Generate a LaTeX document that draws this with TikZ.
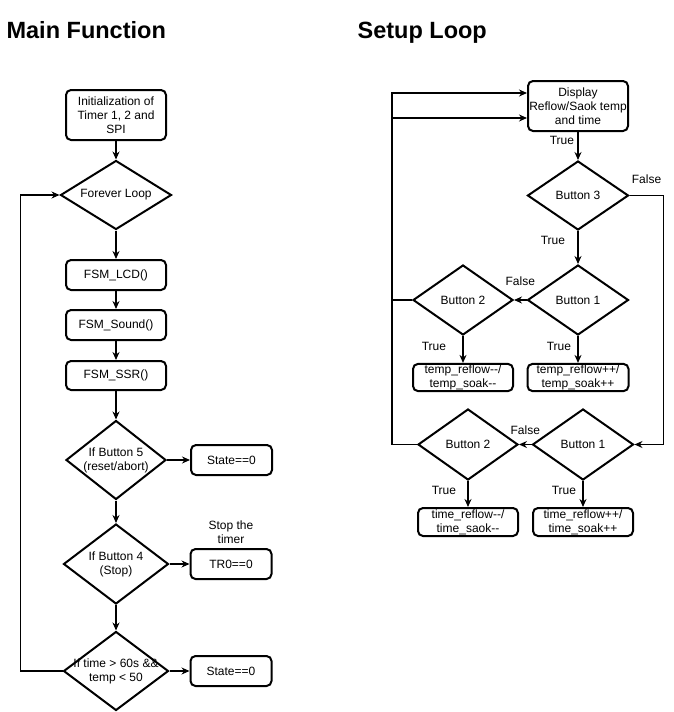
\documentclass[tikz,border=0pt]{standalone}
\usepackage{fontspec}
\setmainfont{Liberation Sans}[Ligatures=TeXOff]
\usetikzlibrary{arrows.meta, positioning, shapes.geometric}

\begin{document}
\begin{tikzpicture}[
            x = 1pt, y = -1pt, % one unit is one pixel, y going down
            > = {Stealth[length=8pt, width=7pt]}, % arrow head style
            line width = 1.2pt, % line style
            font = \fontsize{12}{14}\selectfont
        ]

        \tikzstyle{process}=[
            draw = black,
            line width = 2pt,
            rectangle,
            rounded corners = 5pt,
            align = center,
            inner sep = 1pt,
            minimum width = 100pt,
            minimum height = 30pt
        ]
        \tikzstyle{decision}=[
            draw = black,
            line width = 2pt,
            diamond,
            aspect = 1.3,
            align = center,
            inner sep = 0pt,
            minimum width = 101pt,
            minimum height = 70pt
        ]
        \tikzstyle{title}=[
            font = \fontsize{23.5}{28}\selectfont\bfseries,
            inner sep = 0pt,
            anchor = base west
        ]

        \useasboundingbox (0,0) rectangle (674,712);

        % main function
        \node[title] (maintitle) at (6,38) {Main Function};
        \node[process, minimum height=50pt] (init) at (116,115) {Initialization of\\Timer 1, 2 and\\SPI};
        \node[decision, minimum width=111pt, minimum height=69pt] (forever) at (116,195) {Forever Loop};
        \node[process] (lcd) at (116,275) {FSM\_LCD()};
        \node[process] (sound) at (116,325) {FSM\_Sound()};
        \node[process, minimum height=29pt] (ssr) at (116,375.5) {FSM\_SSR()};
        \node[decision, minimum width=100pt, minimum height=79pt] (b5) at (116,460) {If Button 5\\(reset/abort)};
        \node[decision, minimum width=105pt, minimum height=80pt] (b4) at (116,564) {If Button 4\\(Stop)};
        \node[decision, minimum width=105pt, minimum height=79pt, inner xsep=-15pt] (tcond) at (116,671) {If time > 60s \&\&\\temp < 50};
        \node[process, minimum width=81pt] (st1) [right=23pt of b5] {State==0};
        \node[process, minimum width=81pt] (tr0) [right=20pt of b4] {TR0==0};
        \node[align=center] (stopnote) [above=0pt of tr0] {Stop the\\timer};
        \node[process, minimum width=81pt] (st2) [right=20pt of tcond] {State==0};

        \path[->] (init) edge (forever);
        \path[->] (forever) edge (lcd);
        \path[->] (lcd) edge (sound);
        \path[->] (sound) edge (ssr);
        \path[->] (ssr) edge (b5);
        \path[->] (b5) edge (b4);
        \path[->] (b4) edge (tcond);
        \path[->] (b5) edge (st1);
        \path[->] (b4) edge (tr0);
        \path[->] (tcond) edge (st2);
        \draw[->] (tcond.west) -- ++(-42,0) |- (forever.west);

        % setup loop
        \node[title] (setuptitle) at (357,38) {Setup Loop};
        \node[process, minimum height=50pt] (disp) at (578,106) {Display\\Reflow/Saok temp\\and time};
        \node[decision, minimum height=69pt] (b3) at (578,195.5) {Button 3};
        \node[decision] (b1a) at (578,300) {Button 1};
        \node[decision, minimum width=100pt] (b2a) at (463,300) {Button 2};
        \node[process, minimum height=27pt] (tempdec) at (463,377.5) {temp\_reflow--/\\temp\_soak--};
        \node[process, minimum width=101pt, minimum height=27pt] (tempinc) at (578,377.5) {temp\_reflow++/\\temp\_soak++};
        \node[decision, minimum height=71pt] (b1b) at (583,444.5) {Button 1};
        \node[decision, minimum width=100pt, minimum height=71pt] (b2b) at (468,444.5) {Button 2};
        \node[process, minimum height=28pt] (timedec) at (468,522) {time\_reflow--/\\time\_saok--};
        \node[process, minimum height=28pt] (timeinc) at (583,522) {time\_reflow++/\\time\_soak++};

        \path[->] (disp) edge node[pos=0.3, left] {True} (b3);
        \path[->] (b3) edge node[pos=0.3, left=9pt] {True} (b1a);
        \path[->] (b1a) edge node[above=10pt] {False} (b2a);
        \path[->] (b2a) edge node[pos=0.4, left=13pt] {True} (tempdec);
        \path[->] (b1a) edge node[pos=0.4, left=3pt] {True} (tempinc);
        \path[->] (b1b) edge node[above=6pt] {False} (b2b);
        \path[->] (b2b) edge node[pos=0.35, left=8pt] {True} (timedec);
        \path[->] (b1b) edge node[pos=0.35, left=3pt] {True} (timeinc);
        \draw[->] (b3.east) -- node[above=8pt] {False} ++(34,0) |- (b1b.east);
        \draw[->] (b2a.west) -- ++(-20,0) |- ([yshift=-12pt]disp.west);
        \draw[->] (b2b.west) -- ++(-25,0) |- ([yshift=13pt]disp.west);

        %\draw[red, dashed] (337, 0) -- (337, 712);
    \end{tikzpicture}
\end{document}
